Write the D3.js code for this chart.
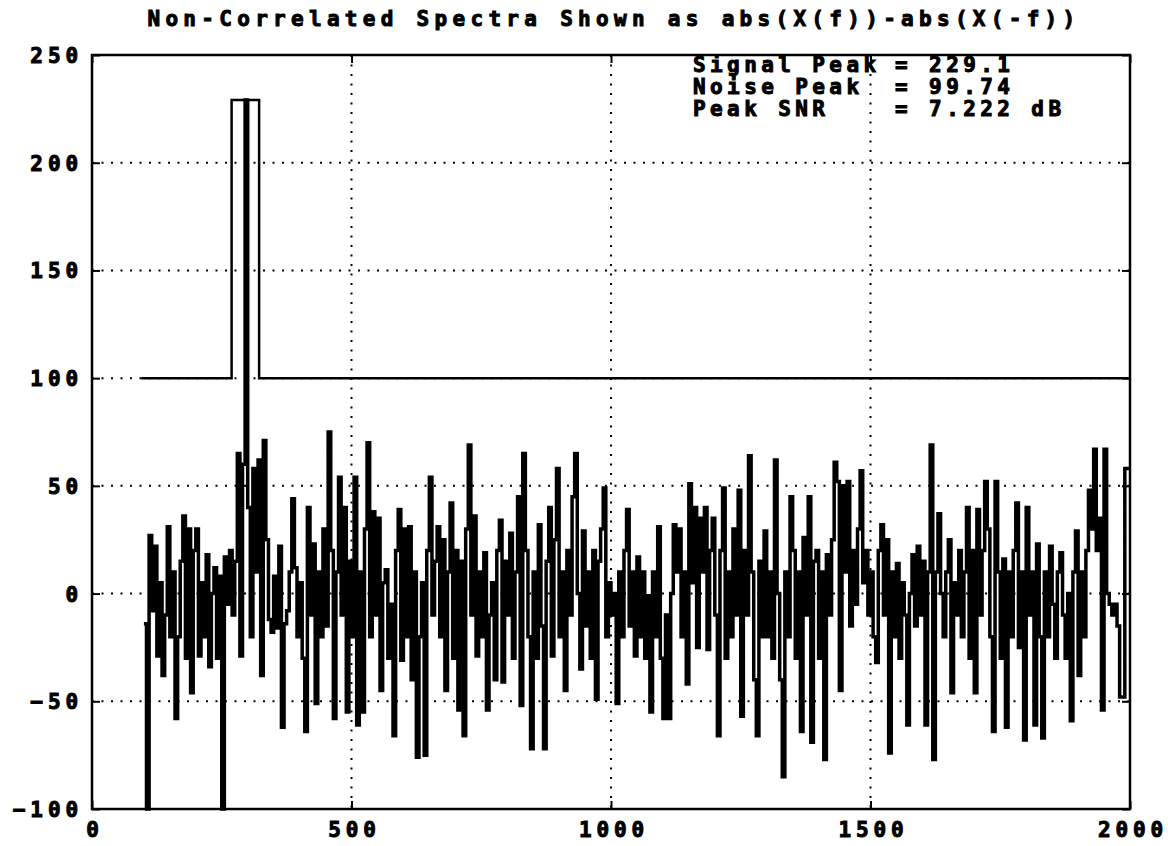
<!DOCTYPE html>
<html>
<head>
<meta charset="utf-8">
<script src="https://cdn.jsdelivr.net/npm/d3@7"></script>
<style>
  body { margin: 0; background: #fff; }
  svg text { font-family: "DejaVu Sans Mono", monospace; font-weight: bold; fill: #000; stroke: #000; stroke-width: 1px; }
</style>
</head>
<body>
<svg id="chart" width="1168" height="846"></svg>
<script>
// values
var titleText = 'Non-Correlated Spectra Shown as abs(X(f))-abs(X(-f))'
var xTicks = [0, 500, 1000, 1500, 2000]
var yTicks = [-100, -50, 0, 50, 100, 150, 200, 250]
var gridX = [500, 1000, 1500]
var gridY = [-50, 0, 50, 100, 150, 200]

var threshX = [95, 269, 269, 322, 322, 2000]
var threshY = [100, 100, 229.1, 229.1, 100, 100]

var statLabels = ['Signal Peak', 'Noise Peak', 'Peak SNR']
var statValues = ['= 229.1', '= 99.74', '= 7.222 dB']

// spectrum difference, one value every 5 bins from 100 to 2000
var specStart = 100, specStep = 5
var specY = [
  -14, -100, 27, -8, 22, -29, 5, -38, -10, 31, -20, 10, -58, -20, 15, 36, -30, 30, -46, 20,
  30, -29, 5, -20, 18, -34, 0, 12, -30, 8, -100, 17, -5, 20, -10, 15, 65, -29, 60, 229.1,
  40, -20, 58, 10, 62, -38, 71, 25, -12, -18, 8, -16, 22, -62, -14, -8, 10, 44, 12, -20,
  5, -30, -64, 40, -10, 23, -51, 10, -20, 30, -15, 75, 20, -58, 10, 54, -10, 40, -55, 15,
  -20, 54, -61, 10, -55, 30, 70, -20, 38, -10, 35, -45, 5, 11, -30, -5, -66, 20, 39, -31,
  30, -20, 31, -40, 10, -76, -20, 5, -75, 20, 54, -10, 15, 31, -20, 25, -45, 10, 42, -30,
  20, -54, 15, -66, 30, 69, -10, 36, -29, 10, -20, 19, -54, -10, 5, -40, 20, 34, -41, 15,
  -10, 28, -30, 10, 45, -52, 65, 20, -20, -72, 10, -30, 32, -15, -72, 15, 40, -29, 25, 58,
  -20, 10, -45, 20, -10, 45, 65, 0, -35, 29, -15, 10, -30, 20, -49, 15, 30, 49, -20, 5,
  -10, 0, -51, 10, -20, 20, 39, -15, 10, -29, 17, -20, 10, -30, -1, -55, 10, -20, 31, -30,
  -58, -10, -58, 0, 32, 10, 30, -20, 10, -42, 51, 5, 40, -25, 35, 10, 40, -26, 20, 35,
  -10, -66, 20, 49, -30, 10, -20, 30, -10, 48, -57, 20, -10, 64, 10, -40, -66, 15, -20, 29,
  -20, 10, -30, 62, 0, -40, -85, 10, -20, 45, 20, -30, 10, -64, 26, -10, 45, -69, 15, 20,
  -30, 10, -77, 18, -10, 25, 61, 52, -45, 50, 10, 52, -15, 20, -5, 30, 57, 5, 20, -10,
  10, -20, -32, 20, 32, -10, 25, -74, 10, -20, 14, -30, 5, -10, -61, 0, 18, -15, 22, -10,
  15, -61, 10, 69, -77, 10, 37, 0, -20, 10, 25, -46, 5, -10, 20, -20, 10, 40, -30, 20,
  -46, 39, -10, 20, 52, 30, -20, -64, 52, 10, -30, 16, -62, 10, -20, 20, 42, -25, 10, -68,
  40, -10, 10, -61, 23, -20, -67, 10, -20, 22, -5, -30, 10, 19, -10, -30, 0, -59, 10, 29,
  -38, 10, -20, 20, 48, 30, 67, 20, 35, -54, 67, 0, -5, -10, -5, -15, -48, -48, 58, 58, 58
]

var margin = {left: 92, top: 55, right: 38, bottom: 37}
var width = 1168 - margin.left - margin.right
var height = 846 - margin.top - margin.bottom

var svg = d3.select('#chart')
var g = svg.append('g').attr('transform', 'translate(' + margin.left + ',' + margin.top + ')')

var x = d3.scaleLinear().domain([0, 2000]).range([0, width])
var y = d3.scaleLinear().domain([-100, 250]).range([height, 0])

// dotted grid
g.selectAll('.gx').data(gridX).enter().append('line')
  .attr('x1', d => x(d)).attr('x2', d => x(d))
  .attr('y1', 0).attr('y2', height)
  .attr('stroke', '#000').attr('stroke-width', 2).attr('stroke-dasharray', '2,7.5')
g.selectAll('.gy').data(gridY).enter().append('line')
  .attr('y1', d => y(d)).attr('y2', d => y(d))
  .attr('x1', 0).attr('x2', width)
  .attr('stroke', '#000').attr('stroke-width', 2).attr('stroke-dasharray', '2,7.5')

var spec = specY.map((v, i) => [specStart + i * specStep, v])

g.append('path')
  .datum(spec)
  .attr('fill', 'none')
  .attr('stroke', '#000')
  .attr('stroke-width', 3.5)
  .attr('d', d3.line().curve(d3.curveStepAfter).x(d => x(d[0])).y(d => y(d[1])))

g.append('path')
  .datum(threshX.map((v, i) => [v, threshY[i]]))
  .attr('fill', 'none')
  .attr('stroke', '#000')
  .attr('stroke-width', 2.5)
  .attr('d', d3.line().x(d => x(d[0])).y(d => y(d[1])))

// axes, ticks pointing inward
let styleAxis = (sel) => {
  sel.select('.domain').remove()
  sel.selectAll('.tick line').attr('stroke', '#000').attr('stroke-width', 2)
  sel.selectAll('text').style('font-size', '21px').style('letter-spacing', '4.9px')
}

g.append('g').call(d3.axisLeft(y).tickValues(yTicks).tickSize(-8).tickPadding(9).tickFormat(d3.format('d')))
  .call(styleAxis)
  .selectAll('text').attr('dy', '0.36em')

g.append('g').attr('transform', 'translate(0,' + height + ')')
  .call(d3.axisBottom(x).tickValues(xTicks).tickSize(-8).tickPadding(0).tickFormat(d3.format('d')))
  .call(styleAxis)
  .selectAll('text').attr('y', 28).attr('dy', 0).attr('dx', 2.5)

g.append('g').call(d3.axisTop(x).tickValues(xTicks).tickSize(-8).tickFormat(''))
  .call(styleAxis)
g.append('g').attr('transform', 'translate(' + width + ',0)')
  .call(d3.axisRight(y).tickValues(yTicks).tickSize(-8).tickFormat(''))
  .call(styleAxis)

g.append('rect')
  .attr('width', width).attr('height', height)
  .attr('fill', 'none').attr('stroke', '#000').attr('stroke-width', 2.5)

svg.append('text')
  .attr('x', margin.left + width / 2 + 3)
  .attr('y', 26)
  .attr('text-anchor', 'middle')
  .style('font-size', '21px').style('letter-spacing', '5.3px')
  .text(titleText)

statLabels.forEach((s, i) => {
  svg.append('text').attr('x', 693).attr('y', 72 + i * 22)
    .style('font-size', '21px').style('letter-spacing', '4.4px').text(s)
  svg.append('text').attr('x', 895).attr('y', 72 + i * 22)
    .style('font-size', '21px').style('letter-spacing', '4.4px').text(statValues[i])
})
</script>
</body>
</html>
